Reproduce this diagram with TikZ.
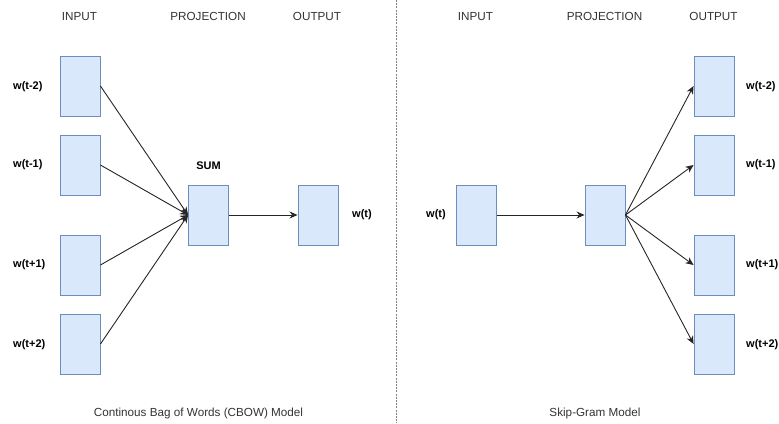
\documentclass[tikz,border=0pt]{standalone}
\usepackage{fontspec}
\setmainfont{Liberation Sans}
\usetikzlibrary{arrows.meta}
\definecolor{boxfill}{HTML}{DAE8FC}
\definecolor{boxline}{HTML}{6C8EBF}
\definecolor{headtext}{HTML}{333333}
\tikzset{
  vecbox/.style={draw=boxline, fill=boxfill, line width=0.9pt, minimum width=40pt, minimum height=60pt, inner sep=0pt},
  wordlabel/.style={font=\fontsize{11}{13}\selectfont\bfseries, inner sep=0pt},
  headlabel/.style={font=\fontsize{11.7}{13}\selectfont, text=headtext, inner sep=0pt},
  flow/.style={draw=black!85, line width=0.9pt, -{Stealth[length=8pt,width=7pt]}}
}
\begin{document}
\begin{tikzpicture}[x=1pt,y=-1pt]
\useasboundingbox (0,0) rectangle (779,423);
% CBOW
\node [headlabel] (cinhead) at (79.5,16.5) {INPUT};
\node [headlabel] (cprojhead) at (208,16.5) {PROJECTION};
\node [headlabel] (couthead) at (317,16.5) {OUTPUT};
\node [vecbox] (cin1) at (80,86) {};
\node [vecbox] (cin2) at (80,165) {};
\node [vecbox] (cin3) at (80,265) {};
\node [vecbox] (cin4) at (80,344) {};
\node [wordlabel, anchor=west] (cw1) at (13,87) {w(t-2)};
\node [wordlabel, anchor=west] (cw2) at (13,165) {w(t-1)};
\node [wordlabel, anchor=west] (cw3) at (13,265) {w(t+1)};
\node [wordlabel, anchor=west] (cw4) at (13,345) {w(t+2)};
\node [vecbox] (csum) at (208.5,215) {};
\node [wordlabel] (csumlabel) at (208.5,166) {SUM};
\node [vecbox] (cout) at (318,215) {};
\node [wordlabel, anchor=west] (cwt) at (352,215) {w(t)};
\foreach \i in {1,...,4}
  \draw [flow] (cin\i.east) -- (csum.west);
\draw [flow] (csum.east) -- (cout.west);
\node [headlabel] (ccaption) at (198.5,413) {Continous Bag of Words (CBOW) Model};
% separator
\coordinate (septop) at (396.7,0);
\coordinate (sepbot) at (396.7,423);
\draw [gray, line width=1pt, dash pattern=on 2pt off 1.2pt] (septop) -- (sepbot);
% Skip-gram
\node [headlabel] (sinhead) at (475.5,16.5) {INPUT};
\node [headlabel] (sprojhead) at (604.5,16.5) {PROJECTION};
\node [headlabel] (southead) at (713.5,16.5) {OUTPUT};
\node [vecbox] (sin) at (476.5,215) {};
\node [wordlabel, anchor=west] (swt) at (426,215) {w(t)};
\node [vecbox] (sproj) at (605,215) {};
\node [vecbox] (sout1) at (714,86) {};
\node [vecbox] (sout2) at (714,165) {};
\node [vecbox] (sout3) at (714,265) {};
\node [vecbox] (sout4) at (714,344) {};
\node [wordlabel, anchor=west] (sw1) at (746,87) {w(t-2)};
\node [wordlabel, anchor=west] (sw2) at (746,165) {w(t-1)};
\node [wordlabel, anchor=west] (sw3) at (746,265) {w(t+1)};
\node [wordlabel, anchor=west] (sw4) at (746,345) {w(t+2)};
\draw [flow] (sin.east) -- (sproj.west);
\foreach \i in {1,...,4}
  \draw [flow] (sproj.east) -- (sout\i.west);
\node [headlabel] (scaption) at (595,413) {Skip-Gram Model};
\end{tikzpicture}
\end{document}
